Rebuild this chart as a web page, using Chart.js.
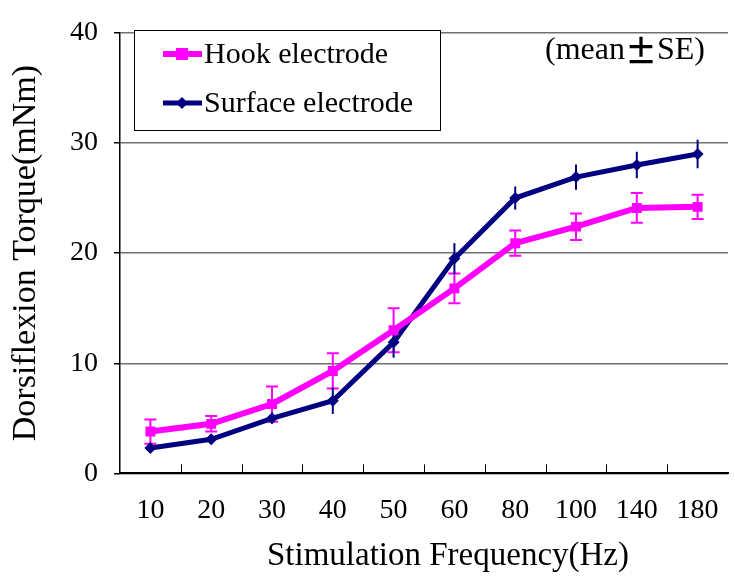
<!DOCTYPE html>
<html>
<head>
<meta charset="utf-8">
<script src="https://cdn.jsdelivr.net/npm/chart.js@4"></script>
<style>
  html, body { margin: 0; padding: 0; background: #fff; overflow: hidden; }
  #wrap { width: 735px; height: 579px; }
</style>
</head>
<body>
<div id="wrap"><canvas id="chart" width="735" height="579"></canvas></div>
<script>
const frequencies = ["10", "20", "30", "40", "50", "60", "80", "100", "140", "180"];
const hookMean = [3.8, 4.5, 6.3, 9.3, 13.0, 16.8, 20.9, 22.4, 24.1, 24.2];
const hookSE = [1.1, 0.7, 1.6, 1.6, 2.0, 1.35, 1.15, 1.2, 1.35, 1.1];
const surfaceMean = [2.3, 3.1, 5.0, 6.6, 11.9, 19.5, 25.0, 26.9, 28.0, 29.0];
const surfaceSE = [0.3, 0.4, 0.5, 1.2, 1.4, 1.4, 1.05, 1.15, 1.2, 1.3];
const yTicks = [0, 10, 20, 30, 40];

const hookColor = "#FF00FF";
const surfaceColor = "#000080";
const serif = "'Liberation Serif', 'Times New Roman', serif";

// error bars, drawn under the points
const errorBars = {
    id: "errorBars",
    beforeDatasetsDraw(chart) {
        const ctx = chart.ctx;
        const y = chart.scales.y;
        chart.data.datasets.forEach((ds, i) => {
            const meta = chart.getDatasetMeta(i);
            ctx.save();
            ctx.strokeStyle = ds.borderColor;
            ctx.lineWidth = 2;
            meta.data.forEach((pt, j) => {
                const v = ds.data[j], e = ds.se[j];
                const top = y.getPixelForValue(v + e);
                const bot = y.getPixelForValue(v - e);
                ctx.beginPath();
                ctx.moveTo(pt.x, top);
                ctx.lineTo(pt.x, bot);
                if (ds.caps) {
                    ctx.moveTo(pt.x - 6, top); ctx.lineTo(pt.x + 6, top);
                    ctx.moveTo(pt.x - 6, bot); ctx.lineTo(pt.x + 6, bot);
                }
                ctx.stroke();
            });
            ctx.restore();
        });
    }
};

// inward tick marks on x axis, legend box, notes and x title
const extras = {
    id: "extras",
    afterDraw(chart) {
        const ctx = chart.ctx;
        const x = chart.scales.x;
        const area = chart.chartArea;
        ctx.save();
        ctx.strokeStyle = "#000";
        ctx.lineWidth = 1;
        for (let i = 1; i < frequencies.length; i++) {
            const bx = Math.round((x.getPixelForValue(i - 1) + x.getPixelForValue(i)) / 2) + 0.5;
            ctx.beginPath();
            ctx.moveTo(bx, area.bottom);
            ctx.lineTo(bx, area.bottom - 9);
            ctx.stroke();
        }

        // legend
        ctx.fillStyle = "#fff";
        ctx.fillRect(134, 30, 306, 100);
        ctx.strokeStyle = "#000";
        ctx.strokeRect(134.5, 30.5, 306, 100);
        const items = [
            { label: "Hook electrode", color: hookColor, w: 6, y: 54, mark: "square" },
            { label: "Surface electrode", color: surfaceColor, w: 5, y: 103, mark: "diamond" }
        ];
        items.forEach(it => {
            ctx.strokeStyle = it.color;
            ctx.fillStyle = it.color;
            ctx.lineWidth = it.w;
            ctx.beginPath();
            ctx.moveTo(163, it.y);
            ctx.lineTo(202, it.y);
            ctx.stroke();
            if (it.mark === "square") {
                ctx.fillRect(176, it.y - 6, 12, 12);
            } else {
                ctx.beginPath();
                ctx.moveTo(182, it.y - 6); ctx.lineTo(188, it.y);
                ctx.lineTo(182, it.y + 6); ctx.lineTo(176, it.y);
                ctx.closePath(); ctx.fill();
            }
            ctx.fillStyle = "#000";
            ctx.font = "30px " + serif;
            ctx.textAlign = "left";
            ctx.textBaseline = "middle";
            ctx.fillText(it.label, 204, it.y + 1);
        });

        // (mean ± SE) note, ± in a wide CJK glyph like the original
        ctx.fillStyle = "#000";
        ctx.textAlign = "left";
        ctx.textBaseline = "middle";
        let tx = 545;
        const parts = [
            ["(mean", "32px " + serif],
            ["\u00B1", "bold 32px 'Noto Sans CJK JP'"],
            ["SE)", "32px " + serif]
        ];
        parts.forEach(([t, f]) => {
            ctx.font = f;
            ctx.fillText(t, tx, 51);
            tx += ctx.measureText(t).width;
        });

        ctx.font = "33px " + serif;
        ctx.textAlign = "center";
        ctx.fillText("Stimulation Frequency(Hz)", 448, 556);
        ctx.restore();
    }
};

new Chart(document.getElementById("chart"), {
    type: "line",
    data: {
        labels: frequencies,
        datasets: [
            {
                label: "Hook electrode",
                data: hookMean,
                se: hookSE,
                caps: true,
                borderColor: hookColor,
                backgroundColor: hookColor,
                borderWidth: 6,
                pointStyle: "rect",
                pointRadius: 7,
                pointBorderWidth: 0,
                tension: 0
            },
            {
                label: "Surface electrode",
                data: surfaceMean,
                se: surfaceSE,
                caps: false,
                borderColor: surfaceColor,
                backgroundColor: surfaceColor,
                borderWidth: 5,
                pointStyle: "rectRot",
                pointRadius: 6,
                pointBorderWidth: 0,
                tension: 0
            }
        ]
    },
    options: {
        responsive: false,
        animation: false,
        layout: { padding: { left: 0, right: 0, top: 18, bottom: 40 } },
        plugins: {
            legend: { display: false },
            tooltip: { enabled: false }
        },
        scales: {
            x: {
                offset: true,
                grid: { display: false },
                border: { display: true, color: "#000", width: 2 },
                ticks: {
                    color: "#000",
                    font: { family: serif, size: 28 },
                    padding: 12,
                    maxRotation: 0,
                    autoSkip: false
                }
            },
            y: {
                min: 0,
                max: 40,
                afterBuildTicks(scale) {
                    scale.ticks = yTicks.map(v => ({ value: v }));
                },
                afterFit(scale) { scale.width = 120; },
                grid: {
                    color: "#707070",
                    lineWidth: 1.5,
                    drawTicks: true,
                    tickLength: 6,
                    tickColor: "#000"
                },
                border: { display: true, color: "#000", width: 1.5 },
                ticks: {
                    color: "#000",
                    font: { family: serif, size: 28 },
                    padding: 16
                },
                title: {
                    display: true,
                    text: "Dorsiflexion Torque(mNm)",
                    color: "#000",
                    font: { family: serif, size: 34 },
                    padding: { top: 6, bottom: 0 }
                }
            }
        }
    },
    plugins: [errorBars, extras]
});
</script>
</body>
</html>
